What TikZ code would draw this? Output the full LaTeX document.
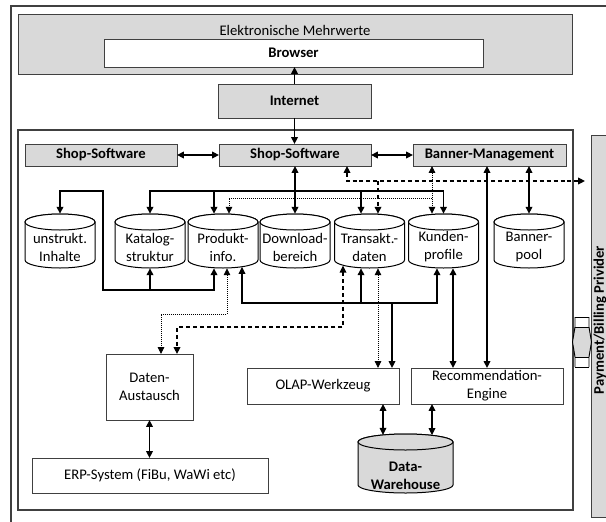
\documentclass[tikz,border=0pt]{standalone}
\usepackage{fontspec}
\setmainfont{Carlito}
\usetikzlibrary{arrows.meta,calc,fit}

\definecolor{panel}{HTML}{D9D9D9}
\definecolor{rim}{HTML}{404040}

\tikzset{
  txt/.style={font=\fontsize{11}{13.5}\selectfont},
  btxt/.style={font=\fontsize{11}{13.5}\selectfont\bfseries},
  every node/.append style={txt},
  box/.style={draw=rim, line width=0.75pt, inner sep=0pt, outer sep=0pt, align=center},
  graybox/.style={box, fill=panel},
  % size given in picture units (1 unit = 0.75pt)
  size/.style 2 args={minimum width=#1*0.75pt, minimum height=#2*0.75pt},
  link/.style={draw=black, line width=0.9pt},
  tip/.style={-{Triangle[length=5.2pt,width=5pt]}},
  both/.style={{Triangle[length=5.2pt,width=5pt]}-{Triangle[length=5.2pt,width=5pt]}},
  dots/.style={line width=0.65pt, dash pattern=on 0.7pt off 0.8pt},
  dashes/.style={dash pattern=on 3pt off 2.2pt},
  cylwall/.style={draw=black, line width=0.75pt},
}

% database cylinder: name, centre x, top y, bottom y, half width, fill, text style, text, text y
\newcommand\dbcyl[9]{%
  \filldraw[cylwall, fill=#6] (#2-#5,#3+8) -- (#2-#5,#4-8)
     arc[start angle=180, end angle=0, x radius=#5, y radius=8]
     -- (#2+#5,#3+8)
     arc[start angle=0, end angle=-180, x radius=#5, y radius=8] -- cycle;
  \draw[cylwall, fill=#6] (#2,#3+8) ellipse[x radius=#5, y radius=8];
  \node[inner sep=0pt, fit={(#2-#5,#3) (#2+#5,#4)}] (#1) {};
  \node[#7, align=center, inner sep=0pt] (#1-label) at (#2,#9) {#8};
}

\begin{document}
\begin{tikzpicture}[x=0.75pt,y=-0.75pt]
\useasboundingbox (0,0) rectangle (606,521);
\fill[white] (0,0) rectangle (606,521);

% outer frame
\draw[rim, line width=0.8pt] (11,6) rectangle (660,560);

% client side
\node[graybox, size={554}{60}] (mehrwerte) at (295,44) {};
\node (mehrwerte-title) at (295,30) {Elektronische Mehrwerte};
\node[box, fill=white, btxt, size={379}{28}] (browser) at (293.5,53) {Browser};
\node[graybox, btxt, size={153}{34}] (internet) at (294.5,101) {Internet};

% shop system frame
\node[box, line width=0.8pt, size={555}{380}] (shopframe) at (295.5,320) {};

% software row
\node[graybox, btxt, size={152}{22}] (shopL) at (101,155) {Shop-Software};
\node[graybox, btxt, size={152}{22}] (shopM) at (295,155) {Shop-Software};
\node[graybox, btxt, size={153}{22}] (banner) at (489.5,155) {Banner-Management};

% data stores
\dbcyl{unstrukt}{60}{214}{268}{35}{white}{txt}{unstrukt.\\Inhalte}{247}
\dbcyl{katalog}{150}{214}{268}{35}{white}{txt}{Katalog-\\struktur}{247}
\dbcyl{produkt}{223}{214}{268}{35}{white}{txt}{Produkt-\\info.}{247}
\dbcyl{download}{295}{214}{268}{35}{white}{txt}{Download-\\bereich}{247}
\dbcyl{transakt}{369.5}{214}{268}{35}{white}{txt}{Transakt.-\\daten}{247}
\dbcyl{kunden}{443.5}{214}{268}{35}{white}{txt}{Kunden-\\profile}{247}
\dbcyl{bannerpool}{529}{214}{268}{35}{white}{txt}{Banner-\\pool}{247}

% processing
\node[box, size={87}{66}] (daten) at (149.5,387) {Daten-\\Austausch};
\node[box, size={236}{35}] (erp) at (150,475.5) {ERP-System (FiBu, WaWi etc)};
\node[box, size={152}{36}] (olap) at (323,386) {OLAP-Werkzeug};
\node[box, size={152}{36}] (reco) at (487,386) {Recommendation-\\Engine};
\dbcyl{dw}{405.5}{434}{493}{47.5}{panel}{btxt}{Data-\\Warehouse}{475.5}

% external provider
\node[graybox, size={59}{382}] (payment) at (620.5,326) {};
\node[btxt, rotate=90] (payment-label) at (600,320) {Payment/Billing Privider};

% interface symbol between shop and provider
\fill[panel] (575,327) -- (589,327) -- (591.5,342) -- (589,357) -- (575,357) -- (572.5,342) -- cycle;
\draw[black, line width=0.7pt] (575,317) -- (575,327) -- (572.5,342) -- (575,357) -- (575,367);
\draw[black, line width=0.7pt] (589,317) -- (589,327) -- (591.5,342) -- (589,357) -- (589,367);
\draw[black, line width=0.7pt] (575,317) -- (589,317) (575,367) -- (589,367);
\draw[black, line width=0.6pt] (575,327) -- (589,327) (575,357) -- (589,357);

% browser / internet / shop
\draw[link,tip] (internet.north) -- (internet.north |- browser.south);
\draw[link,tip] (internet.south) -- (internet.south |- shopM.north);
\draw[link,both] (shopL.east) -- (shopM.west);
\draw[link,both] (shopM.east) -- (banner.west);
\draw[link,both] (shopM.south) -- (download.north);

% shop software feeds the stores
\coordinate (busW) at (150,191);
\coordinate (busE) at (443.5,191);
\coordinate (busP) at (214,191);
\coordinate (busT) at (361,191);
\draw[link,both] (kunden.north) |- (busW) -- (katalog.north);
\draw[link,tip] (busP) -- (busP |- produkt.north);
\draw[link,tip] (busT) -- (busT |- transakt.north);

% banner management and customer profiles (dotted)
\coordinate (dotE) at (432,198);
\coordinate (dotW) at (229,198);
\draw[link,dots,both] (dotE |- banner.south) -- (dotE |- kunden.north);
\draw[link,dots,tip] (dotE) -- (dotW) -- (dotW |- produkt.north);

% payment flow (dashed)
\coordinate (dashW) at (347,181);
\coordinate (dashT) at (378,181);
\draw[link,dashes,both,shorten >=4.5pt] (dashW |- shopM.south) -- (dashW) -- (dashW -| payment.west);
\draw[link,dashes,tip] (dashT) -- (dashT |- transakt.north);

% banner management links
\draw[link,both] (reco.north |- banner.south) -- (reco.north);
\draw[link,both] (bannerpool.north |- banner.south) -- (bannerpool.north);

% unstructured content, catalogue and product info
\coordinate (uNE) at (103,191);
\coordinate (uSE) at (103,290);
\coordinate (uSP) at (214,290);
\draw[link,both] (unstrukt.north) |- (uNE) -- (uSE) -- (uSP) -- (uSP |- produkt.south);
\draw[link,tip] (katalog.south |- uSE) -- (katalog.south);

% data exchange with product info (dotted) and transactions (dashed)
\coordinate (dpN) at (227,314);
\coordinate (dpW) at (161,314);
\draw[link,dots,both] (dpN |- produkt.south) -- (dpN) -- (dpW) -- (dpW |- daten.north);
\coordinate (dtN) at (343,327);
\coordinate (dtW) at (177,327);
\draw[link,dashes,both,shorten <=-2pt] (dtN |- transakt.south) -- (dtN) -- (dtW) -- (dtW |- daten.north);

% OLAP bus
\coordinate (obW) at (242,303);
\coordinate (obE) at (437,303);
\coordinate (obT) at (361,303);
\coordinate (obO) at (392,303);
\draw[link,both,shorten <=-1pt] (obW |- produkt.south) -- (obW) -- (obE) -- (obE |- kunden.south);
\draw[link,tip] (obT) -- (obT |- transakt.south);
\draw[link,tip] (obO) -- (obO |- olap.north);

% transactions to OLAP (dotted), profiles to recommendation
\coordinate (toX) at (378,330);
\draw[link,dots,both] (toX |- transakt.south) -- (toX |- olap.north);
\coordinate (krX) at (453,330);
\draw[link,both] (krX |- kunden.south) -- (krX |- reco.north);

% ERP and warehouse
\draw[link,both] (daten.south) -- (daten.south |- erp.north);
\coordinate (owX) at (383,420);
\coordinate (rwX) at (432,420);
\draw[link,both,shorten >=-0.8pt] (owX |- olap.south) -- (owX |- dw.north);
\draw[link,both,shorten >=-1pt] (rwX |- reco.south) -- (rwX |- dw.north);
\end{tikzpicture}
\end{document}
